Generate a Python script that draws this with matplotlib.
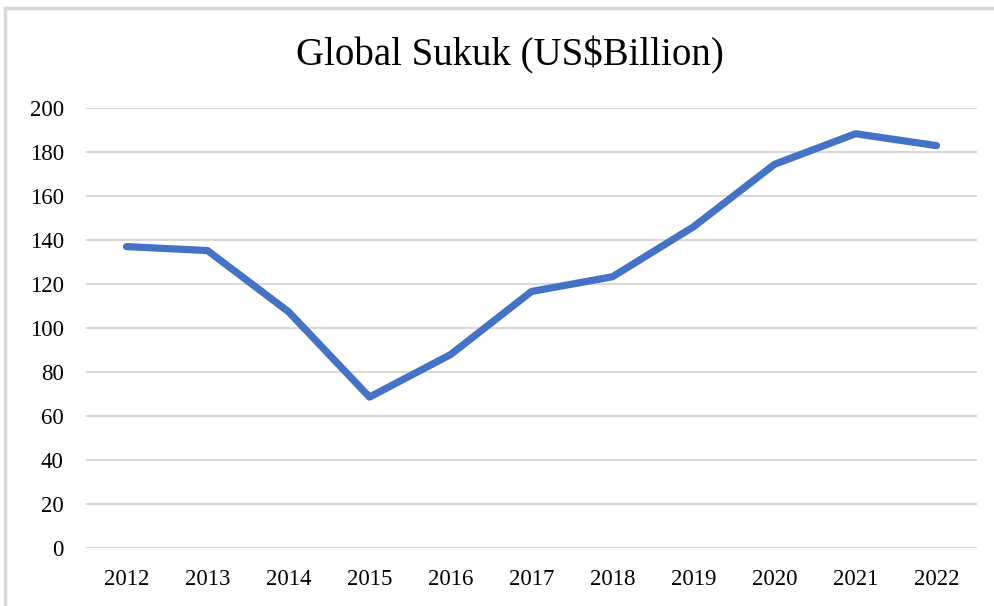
import matplotlib
matplotlib.use("Agg")
import matplotlib.pyplot as plt
from matplotlib.lines import Line2D

# --- data ---
years = ["2012", "2013", "2014", "2015", "2016", "2017", "2018", "2019", "2020", "2021", "2022"]
sukuk = [137.0, 135.2, 107.4, 68.6, 87.9, 116.6, 123.3, 146.0, 174.4, 188.3, 182.9]
y_ticks = list(range(0, 201, 20))

plt.rcParams['font.family'] = ['Liberation Serif', 'DejaVu Serif']

W, H = 995, 606
fig = plt.figure(figsize=(W / 100, H / 100), dpi=100)
ax = fig.add_axes([86 / W, 1 - 548 / H, (977 - 86) / W, (548 - 108) / H])

x = list(range(len(years)))
ax.plot(x, sukuk, color='#4472C4', lw=5.2, solid_capstyle='round', solid_joinstyle='round', zorder=3)

ax.set_xlim(-0.5, len(years) - 0.5)
ax.set_ylim(0, 200)
ax.set_yticks(y_ticks)
ax.set_xticks(x)
ax.set_xticklabels(years)
ax.grid(axis='y', color='#D9D9D9', lw=1.5)
ax.set_axisbelow(True)
for s in ax.spines.values():
    s.set_visible(False)
ax.tick_params(axis='both', length=0, labelsize=16.5, colors='#000000')
ax.tick_params(axis='y', pad=16)
ax.tick_params(axis='x', pad=15)

fig.text(510 / W, 1 - 55 / H, "Global Sukuk (US$Billion)", ha='center', va='center', fontsize=28)

# outer chart frame (top and left edges visible)
frame = dict(color='#D9D9D9', lw=2.5, transform=fig.transFigure)
fig.add_artist(Line2D([5 / W, 5 / W], [0, 1 - 8 / H], **frame))
fig.add_artist(Line2D([5 / W, 1], [1 - 8 / H, 1 - 8 / H], **frame))

fig.savefig("out.png", dpi=100)
